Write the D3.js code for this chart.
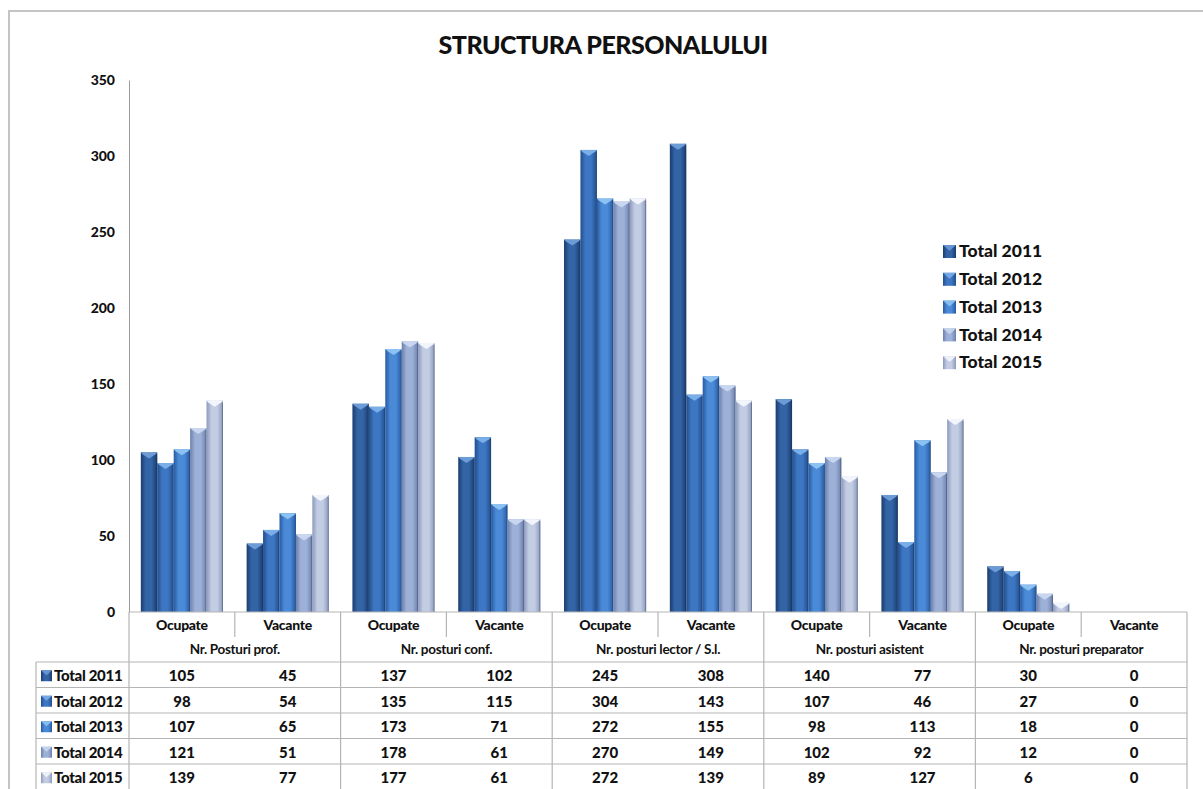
<!DOCTYPE html>
<html>
<head>
<meta charset="utf-8">
<script src="https://cdn.jsdelivr.net/npm/d3@7/dist/d3.min.js"></script>
<style>
  html, body { margin: 0; padding: 0; background: #fff; }
  svg text { font-family: Lato, "Open Sans", sans-serif; font-weight: 700; fill: #111; }
</style>
</head>
<body>
<div id="chart"></div>
<script>
/* ── Données ─────────────────────────────────────────────────────────── */
const groups   = ['Nr. Posturi prof.', 'Nr. posturi conf.', 'Nr. posturi lector / S.l.', 'Nr. posturi asistent', 'Nr. posturi preparator'];
const subCats  = ['Ocupate', 'Vacante'];
const series   = ['Total 2011', 'Total 2012', 'Total 2013', 'Total 2014', 'Total 2015'];
const v2011 = [105, 45, 137, 102, 245, 308, 140, 77, 30, 0];
const v2012 = [98, 54, 135, 115, 304, 143, 107, 46, 27, 0];
const v2013 = [107, 65, 173, 71, 272, 155, 98, 113, 18, 0];
const v2014 = [121, 51, 178, 61, 270, 149, 102, 92, 12, 0];
const v2015 = [139, 77, 177, 61, 272, 139, 89, 127, 6, 0];
const values = [v2011, v2012, v2013, v2014, v2015];
const yTicks = [0, 50, 100, 150, 200, 250, 300, 350];

// couleurs : [bord sombre, milieu clair, chapeau]
const colors = [
  ['#1a3c6e', '#3364a6', '#6c9bd6'],
  ['#214e8c', '#3d76c2', '#7aaee8'],
  ['#275aa3', '#4b8ad6', '#8cc2f2'],
  ['#6c80ab', '#9cb0d8', '#c8d6f0'],
  ['#8c99bb', '#c2cde4', '#f2f5fb'],
];

/* ── Dimensions ───────────────────────────────────────────────────────── */
const W = 1203, H = 789;
const plotL = 129, plotR = 1187, plotT = 80, plotB = 612;
const tableL = 36;
const hdr1 = 25, hdr2 = 25, rowH = 25.5;

const svg = d3.select('#chart').append('svg')
  .attr('width', W).attr('height', H);

const defs = svg.append('defs');
series.forEach((s, i) => {
  const g = defs.append('linearGradient').attr('id', 'grad' + i)
    .attr('x1', '0%').attr('x2', '100%').attr('y1', '0%').attr('y2', '0%');
  g.append('stop').attr('offset', '0%').attr('stop-color', colors[i][0]);
  g.append('stop').attr('offset', '30%').attr('stop-color', colors[i][1]);
  g.append('stop').attr('offset', '65%').attr('stop-color', colors[i][1]);
  g.append('stop').attr('offset', '100%').attr('stop-color', colors[i][0]);
});

// cadre extérieur
svg.append('rect')
  .attr('x', 9).attr('y', 11).attr('width', 1300).attr('height', 900)
  .attr('fill', 'none').attr('stroke', '#c4c4c4').attr('stroke-width', 2);

// titre
svg.append('text')
  .attr('x', 603).attr('y', 54)
  .attr('text-anchor', 'middle')
  .style('font-size', '25px')
  .style('font-weight', 900)
  .style('letter-spacing', '-0.5px')
  .text('STRUCTURA PERSONALULUI');

/* ── Échelles ─────────────────────────────────────────────────────────── */
const cols = groups.flatMap((g, gi) => subCats.map((c, ci) => gi * 2 + ci));
const x0 = d3.scaleBand().domain(cols).range([plotL, plotR]).padding(0);
const x1 = d3.scaleBand().domain(series).range([0, x0.bandwidth()])
  .paddingInner(0).paddingOuter(0.72);
const y = d3.scaleLinear().domain([0, 350]).range([plotB, plotT]);

// axe Y
const yAxis = d3.axisLeft(y).tickValues(yTicks).tickSize(0).tickPadding(14);
const ya = svg.append('g').attr('transform', `translate(${plotL},0)`).call(yAxis);
ya.select('.domain').attr('stroke', '#9a9a9a');
ya.selectAll('text').style('font-size', '14px').style('font-family', 'Lato, sans-serif')
  .style('font-weight', 900).attr('fill', '#111');

/* ── Barres ───────────────────────────────────────────────────────────── */
const colG = svg.append('g').selectAll('g')
  .data(cols).join('g')
  .attr('transform', d => `translate(${x0(d)},0)`);

colG.each(function (c) {
  const g = d3.select(this);
  series.forEach((s, si) => {
    const v = values[si][c];
    if (!v) return;
    const bx = x1(s), bw = x1.bandwidth();
    const by = y(v), bh = plotB - y(v);
    g.append('rect')
      .attr('x', bx).attr('y', by).attr('width', bw).attr('height', bh)
      .attr('fill', `url(#grad${si})`);
    // petite ombre droite
    g.append('rect')
      .attr('x', bx + bw - 1).attr('y', by + 2).attr('width', 1).attr('height', bh - 2)
      .attr('fill', '#1a2a44').attr('opacity', 0.35);
    // chapeau en V
    const cap = Math.min(6, bh);
    g.append('path')
      .attr('d', `M${bx},${by} L${bx + bw},${by} L${bx + bw - 2},${by + 2} L${bx + bw / 2},${by + cap} L${bx + 2},${by + 2} Z`)
      .attr('fill', colors[si][2]);
  });
});

/* ── Légende ──────────────────────────────────────────────────────────── */
function marker(sel, si, x, yy, s) {
  sel.append('rect').attr('x', x).attr('y', yy).attr('width', s).attr('height', s)
    .attr('fill', `url(#grad${si})`);
  sel.append('path')
    .attr('d', `M${x},${yy} L${x + s},${yy} L${x + s / 2},${yy + s * 0.45} Z`)
    .attr('fill', colors[si][2]).attr('opacity', 0.9);
}

const leg = svg.append('g');
series.forEach((s, i) => {
  const ly = 251 + i * 27.8;
  marker(leg, i, 943, ly - 6, 13);
  leg.append('text').attr('x', 959).attr('y', ly).attr('dy', '0.35em')
    .style('font-size', '17.5px').style('font-weight', 900).text(s);
});

/* ── Tableau de données ───────────────────────────────────────────────── */
const tb = svg.append('g');
const lineC = '#b5b5b5';
const tTop = plotB, tMid = plotB + hdr1, tRows = plotB + hdr1 + hdr2;
const tBot = tRows + rowH * series.length;

function hline(x1_, x2_, yy) {
  tb.append('line').attr('x1', x1_).attr('x2', x2_).attr('y1', yy).attr('y2', yy)
    .attr('stroke', lineC).attr('stroke-width', 1.2);
}
function vline(xx, y1_, y2_) {
  tb.append('line').attr('x1', xx).attr('x2', xx).attr('y1', y1_).attr('y2', y2_)
    .attr('stroke', lineC).attr('stroke-width', 1.2);
}

hline(plotL, plotR, tTop);
hline(tableL, plotR, tRows);
series.forEach((s, i) => hline(tableL, plotR, tRows + rowH * (i + 1)));
vline(tableL, tRows, tBot + 10);
vline(plotL, tTop, tBot + 10);
cols.forEach(c => {
  const xr = x0(c) + x0.bandwidth();
  if (c % 2 === 1) vline(xr, tTop, tBot + 10);
  else vline(xr, tTop, tMid);
});

// en-têtes
cols.forEach(c => {
  tb.append('text')
    .attr('x', x0(c) + x0.bandwidth() / 2).attr('y', tTop + hdr1 / 2 + 1)
    .attr('dy', '0.35em').attr('text-anchor', 'middle')
    .style('font-size', '14px').style('font-weight', 900).style('letter-spacing', '-0.3px')
    .text(subCats[c % 2]);
});
groups.forEach((g, gi) => {
  tb.append('text')
    .attr('x', x0(gi * 2) + x0.bandwidth()).attr('y', tMid + hdr2 / 2)
    .attr('dy', '0.35em').attr('text-anchor', 'middle')
    .style('font-size', '13.5px').style('letter-spacing', '-0.3px')
    .text(g);
});

// lignes de valeurs
series.forEach((s, si) => {
  const cy = tRows + rowH * si + rowH / 2 + 1;
  marker(tb, si, 41, cy - 5.5, 11);
  tb.append('text').attr('x', 54).attr('y', cy).attr('dy', '0.35em')
    .style('font-size', '15px').style('font-weight', 900).style('letter-spacing', '-0.3px').text(s);
  cols.forEach(c => {
    tb.append('text')
      .attr('x', x0(c) + x0.bandwidth() / 2).attr('y', cy).attr('dy', '0.35em')
      .attr('text-anchor', 'middle').style('font-size', '15px').style('font-weight', 900)
      .text(values[si][c]);
  });
});
</script>
</body>
</html>
